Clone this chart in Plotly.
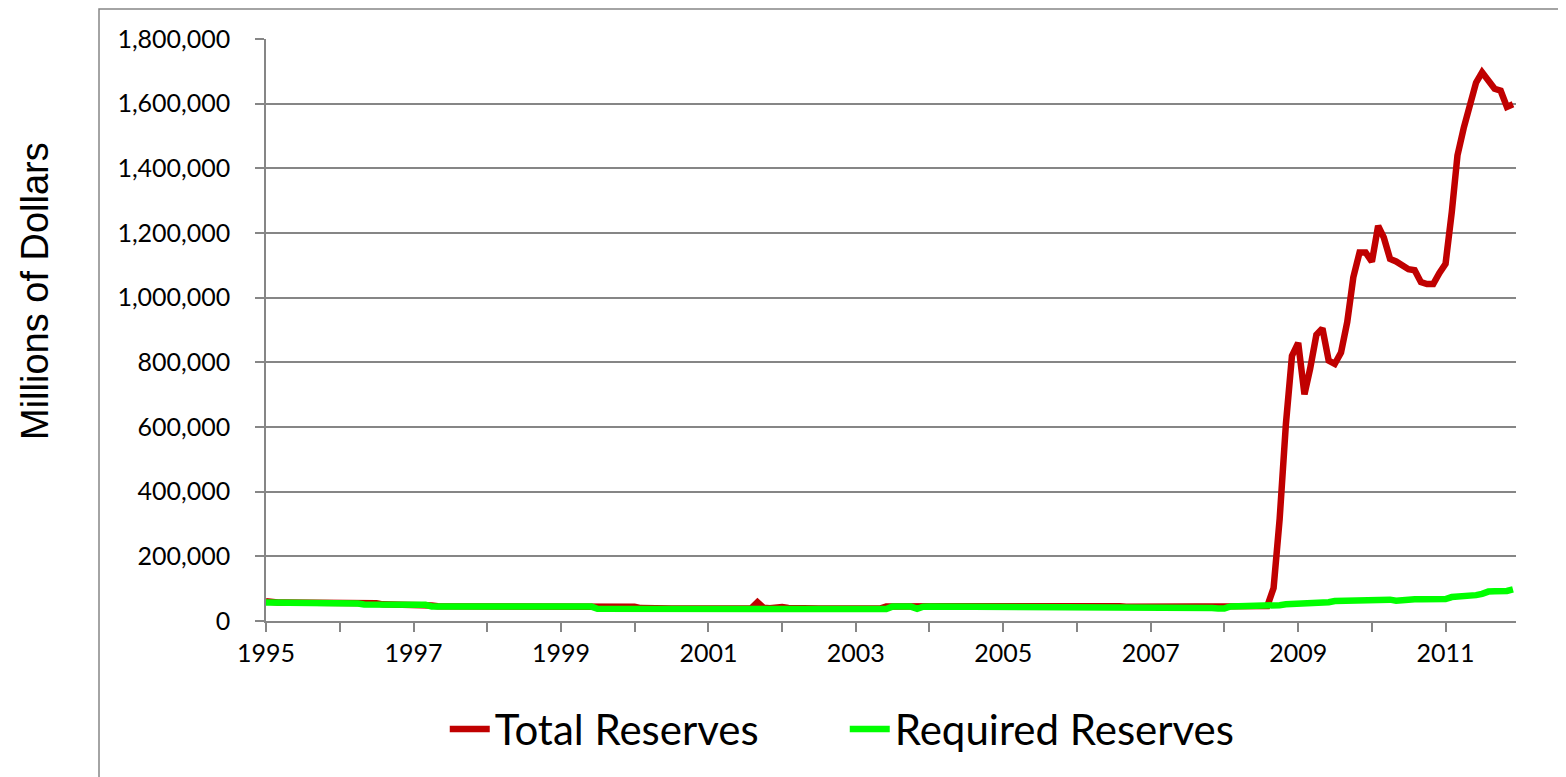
import pandas as pd
import plotly.graph_objects as go

# monthly, Jan 1995 .. Dec 2011 (millions of dollars)
months = pd.date_range("1995-01-01", "2011-12-01", freq="MS")

total_reserves = [
    61000, 58000, 57500, 57500, 57500, 57500, 57500, 57500, 57500, 57500, 57500, 57500,  # 1995
    57000, 57000, 57000, 57000, 56500, 56000, 55000, 51500, 51500, 51500, 51500, 51500,  # 1996
    51500, 51500, 51000, 48000, 45500, 45500, 45500, 45500, 45500, 45500, 45500, 45500,  # 1997
    45500, 45500, 45500, 45500, 45500, 45500, 45500, 45500, 45500, 45500, 45500, 45500,  # 1998
    45500, 45500, 45500, 45500, 45500, 45500, 44000, 43500, 43500, 43500, 43500, 45000,  # 1999
    44000, 40000, 39000, 39000, 39000, 39000, 39000, 39000, 39000, 39000, 39000, 39000,  # 2000
    39000, 39000, 39000, 39000, 39000, 39000, 39000, 39000, 58000, 41000, 39500, 43000,  # 2001
    43000, 40000, 39000, 39000, 39000, 39000, 39000, 39000, 39000, 39000, 39000, 39000,  # 2002
    38500, 38500, 38500, 38500, 38500, 45000, 45500, 45500, 45500, 45500, 45000, 45500,  # 2003
    45500, 45500, 45500, 45500, 45500, 45500, 45500, 45500, 45500, 45500, 45500, 45500,  # 2004
    50000, 45500, 45500, 45500, 45500, 45500, 45500, 45500, 45500, 45500, 45500, 45500,  # 2005
    45500, 45500, 45500, 45500, 45500, 45500, 45500, 45500, 44000, 44000, 44000, 44000,  # 2006
    44000, 44000, 44000, 44000, 44500, 44500, 43000, 43000, 44000, 44000, 43500, 43500,  # 2007
    44000, 45500, 45500, 45500, 45500, 45500, 45500, 46000, 102000, 315000, 609000, 820000,  # 2008
    860000, 701000, 780000, 885000, 905000, 805000, 795000, 830000, 925000, 1063000, 1140000, 1140000,  # 2009
    1111000, 1222000, 1186000, 1120000, 1112000, 1098000, 1088000, 1085000, 1048000, 1042000, 1042000, 1076000,  # 2010
    1105000, 1265000, 1440000, 1525000, 1600000, 1665000, 1697000, 1668000, 1646000, 1640000, 1590000, 1598000,  # 2011
]

required_reserves = [
    57000, 57000, 57000, 57000, 57000, 57000, 57000, 57000, 57000, 57000, 57000, 57000,  # 1995
    57000, 57000, 57000, 54000, 51000, 51000, 51000, 51000, 51000, 51000, 51000, 51000,  # 1996
    51000, 51000, 50000, 45000, 44500, 44500, 44500, 44500, 44500, 44500, 44500, 44500,  # 1997
    44500, 44500, 44500, 44500, 44500, 44500, 44500, 44500, 44500, 44500, 44500, 44500,  # 1998
    44500, 44500, 44500, 44500, 44500, 44500, 38000, 38000, 38000, 38000, 38000, 38000,  # 1999
    38000, 38000, 38000, 38000, 38000, 38000, 38000, 38000, 38000, 38000, 38000, 38000,  # 2000
    38000, 38000, 38000, 38000, 38000, 38000, 38000, 38000, 39000, 41000, 38000, 38000,  # 2001
    38000, 38000, 38000, 38000, 38000, 38000, 38000, 38000, 38000, 38000, 38000, 38000,  # 2002
    37000, 37000, 37000, 37000, 37000, 37000, 44500, 44500, 44500, 44500, 37500, 44000,  # 2003
    44500, 44500, 44500, 44500, 44500, 44500, 44500, 44500, 44500, 44500, 44500, 44500,  # 2004
    44500, 44500, 44500, 44500, 44500, 44500, 44500, 44500, 44500, 44500, 44500, 44500,  # 2005
    44500, 44500, 44500, 44500, 44500, 44500, 44500, 44500, 40000, 40000, 40000, 40000,  # 2006
    40000, 40000, 40000, 40000, 44000, 44000, 40000, 40000, 43000, 43000, 40000, 38500,  # 2007
    39000, 45000, 45000, 45000, 45000, 45000, 45000, 45000, 46500, 49000, 51500, 52000,  # 2008
    55000, 57000, 57000, 57000, 57000, 58000, 62000, 63000, 63000, 63000, 63000, 63000,  # 2009
    63000, 64000, 69000, 66000, 63000, 66000, 67000, 67000, 67000, 67000, 67000, 67000,  # 2010
    68000, 74000, 75000, 75000, 78000, 80000, 84000, 91000, 92000, 92000, 93000, 98000,  # 2011
]

y_ticks = list(range(0, 1800001, 200000))

GRAY = "#868686"
NUM_FONT = dict(family="Lato, Carlito, sans-serif", size=25, color="black")

fig = go.Figure()

fig.add_trace(
    go.Scatter(
        x=months,
        y=total_reserves,
        mode="lines",
        name="Total Reserves",
        line=dict(color="#C00000", width=6.5),
    )
)
fig.add_trace(
    go.Scatter(
        x=months,
        y=required_reserves,
        mode="lines",
        name="Required Reserves",
        line=dict(color="#00FF00", width=6.5),
    )
)

# the page body adds ~8px, so margins are pulled in by that much
fig.update_layout(
    width=1566,
    height=777,
    margin=dict(l=258, r=58, t=31, b=164),
    plot_bgcolor="white",
    paper_bgcolor="white",
    showlegend=True,
    legend=dict(
        orientation="h",
        x=0.463,
        xanchor="center",
        y=-0.186,
        yanchor="middle",
        font=dict(family="Lato, Carlito, sans-serif", size=42, color="black"),
        itemwidth=40,
        entrywidth=345,
    ),
)

fig.update_xaxes(
    type="date",
    range=["1995-01-01", "2011-12-16"],
    tick0="1995-01-01",
    dtick="M24",
    tickformat="%Y",
    ticks="outside",
    ticklen=9,
    tickcolor=GRAY,
    tickwidth=1.5,
    minor=dict(dtick="M12", ticks="outside", ticklen=9, tickcolor=GRAY, tickwidth=1.5, showgrid=False),
    showgrid=False,
    showline=True,
    linecolor=GRAY,
    linewidth=1.5,
    tickfont=NUM_FONT,
)

fig.update_yaxes(
    range=[0, 1800000],
    tickvals=y_ticks,
    tickformat=",d",
    ticks="outside",
    ticklen=9,
    tickcolor=GRAY,
    tickwidth=1.5,
    ticklabelstandoff=20,
    showgrid=True,
    gridcolor=GRAY,
    gridwidth=1.5,
    zeroline=False,
    showline=True,
    linecolor=GRAY,
    linewidth=1.5,
    tickfont=NUM_FONT,
)

# y axis title sits outside the chart frame, like the original
fig.add_annotation(
    text="Millions of Dollars",
    xref="paper",
    yref="paper",
    x=-0.1848,
    y=0.567,
    xanchor="center",
    yanchor="middle",
    textangle=-90,
    showarrow=False,
    font=dict(family="Liberation Sans, Arial, sans-serif", size=38, color="black"),
)

# chart frame (extends past the right and bottom edges of the picture)
fig.add_shape(
    type="rect",
    xref="paper",
    yref="paper",
    x0=-0.1336,
    y0=-0.7,
    x1=1.3,
    y1=1.0515,
    line=dict(color=GRAY, width=1.5),
    layer="below",
)

fig.write_html("out.html")
